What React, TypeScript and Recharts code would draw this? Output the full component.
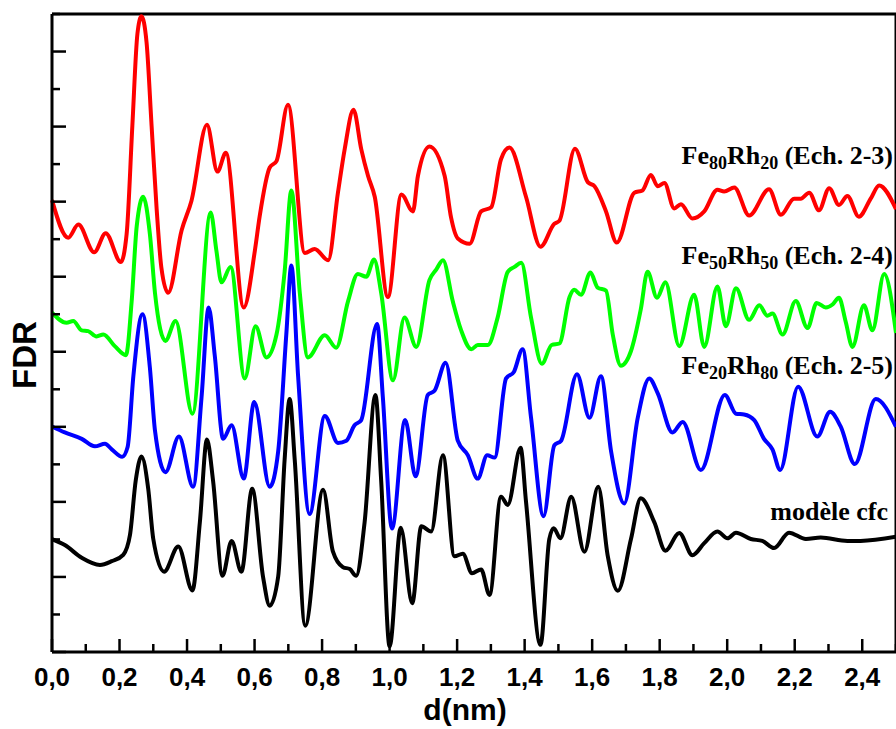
import React from 'react';
import { LineChart, Line, XAxis, YAxis, ReferenceLine } from 'recharts';

type Pt = [number, number];

// d (nm) tick positions, labelled every 0.2
const xTicks = [0, 0.1, 0.2, 0.3, 0.4, 0.5, 0.6, 0.7, 0.8, 0.9, 1.0, 1.1, 1.2, 1.3, 1.4, 1.5, 1.6, 1.7, 1.8, 1.9, 2.0, 2.1, 2.2, 2.3, 2.4, 2.5];
// FDR axis has no labels, only inward ticks
const yTicks = [0, 1, 2, 3, 4, 5, 6, 7, 8, 9, 10, 11, 12, 13, 14, 15, 16, 17];

// curves are plotted with a vertical offset
const fe80Rh20: Pt[] = [
  [0, 12.04], [0.048, 11.04], [0.078, 11.39], [0.125, 10.65], [0.159, 11.16], [0.204, 10.39],
  [0.221, 11.13], [0.238, 14.02], [0.253, 16.47], [0.265, 16.94], [0.28, 16.25], [0.295, 14.02],
  [0.31, 11.8], [0.324, 10.24], [0.344, 9.57], [0.384, 11.24], [0.413, 12.02], [0.459, 14.05],
  [0.49, 12.8], [0.515, 13.3], [0.568, 9.18], [0.601, 10.7], [0.615, 11.6], [0.645, 12.91],
  [0.665, 13.08], [0.699, 14.58], [0.749, 10.63], [0.778, 10.74], [0.818, 10.44], [0.847, 12.24],
  [0.867, 13.4], [0.893, 14.45], [0.916, 13.4], [0.936, 12.69], [0.956, 12.13], [0.995, 9.46],
  [1.035, 12.19], [1.069, 11.74], [1.084, 12.69], [1.118, 13.47], [1.163, 12.69], [1.182, 11.58],
  [1.202, 11.02], [1.237, 10.88], [1.271, 11.74], [1.301, 11.85], [1.33, 13.13], [1.355, 13.44],
  [1.404, 12.13], [1.447, 10.8], [1.488, 11.41], [1.503, 11.49], [1.549, 13.41], [1.587, 12.52],
  [1.607, 12.41], [1.641, 11.74], [1.673, 10.91], [1.725, 12.24], [1.749, 12.3], [1.774, 12.71],
  [1.794, 12.41], [1.814, 12.5], [1.843, 11.82], [1.863, 11.93], [1.897, 11.55], [1.932, 11.74],
  [1.971, 12.32], [1.991, 12.27], [2.021, 12.38], [2.065, 11.63], [2.124, 12.33], [2.159, 11.65],
  [2.198, 12.08], [2.218, 12.08], [2.243, 12.24], [2.272, 11.77], [2.302, 12.36], [2.331, 11.91],
  [2.356, 12.15], [2.39, 11.6], [2.425, 12.08], [2.45, 12.43], [2.5, 11.8],
];

const fe50Rh50: Pt[] = [
  [0, 9.04], [0.043, 8.77], [0.063, 8.82], [0.088, 8.57], [0.107, 8.55], [0.132, 8.41],
  [0.152, 8.46], [0.186, 8.15], [0.219, 7.91], [0.236, 9.35], [0.251, 11.35], [0.27, 12.13],
  [0.29, 11.13], [0.305, 9.57], [0.336, 8.29], [0.366, 8.82], [0.416, 6.35], [0.47, 11.71],
  [0.487, 10.69], [0.502, 9.85], [0.529, 10.26], [0.571, 7.29], [0.603, 8.68], [0.635, 7.85],
  [0.665, 8.46], [0.689, 10.13], [0.709, 12.3], [0.734, 9.57], [0.758, 7.85], [0.808, 8.44],
  [0.842, 8.11], [0.877, 9.35], [0.906, 10.07], [0.931, 10.0], [0.954, 10.46], [0.975, 9.57],
  [1.01, 7.24], [1.044, 8.91], [1.079, 8.13], [1.118, 9.91], [1.138, 10.19], [1.158, 10.44],
  [1.187, 9.35], [1.212, 8.57], [1.242, 8.07], [1.261, 8.18], [1.291, 8.18], [1.32, 8.91],
  [1.35, 10.13], [1.37, 10.26], [1.39, 10.37], [1.419, 8.91], [1.451, 7.68], [1.48, 8.18],
  [1.503, 8.22], [1.533, 9.46], [1.547, 9.65], [1.567, 9.52], [1.595, 10.11], [1.616, 9.71],
  [1.641, 9.63], [1.661, 8.46], [1.685, 7.63], [1.715, 8.02], [1.744, 9.13], [1.764, 10.13],
  [1.792, 9.44], [1.817, 9.85], [1.858, 8.15], [1.902, 9.52], [1.932, 8.13], [1.971, 9.74],
  [1.996, 8.68], [2.026, 9.69], [2.065, 8.85], [2.095, 9.24], [2.119, 8.96], [2.134, 9.02],
  [2.164, 8.46], [2.203, 9.35], [2.238, 8.63], [2.265, 9.3], [2.292, 9.18], [2.312, 9.26],
  [2.331, 9.44], [2.351, 8.8], [2.371, 8.13], [2.405, 9.24], [2.43, 8.57], [2.465, 10.07],
  [2.5, 8.5],
];

const fe20Rh80: Pt[] = [
  [0, 6.01], [0.038, 5.85], [0.088, 5.68], [0.127, 5.48], [0.157, 5.55], [0.177, 5.4],
  [0.208, 5.2], [0.224, 5.46], [0.241, 7.35], [0.268, 9.0], [0.29, 7.57], [0.305, 5.9],
  [0.336, 4.79], [0.376, 5.74], [0.418, 4.4], [0.443, 6.79], [0.464, 9.18], [0.482, 7.91],
  [0.507, 5.68], [0.532, 6.04], [0.568, 4.62], [0.599, 6.66], [0.645, 4.4], [0.67, 5.35],
  [0.694, 8.46], [0.709, 10.3], [0.729, 7.35], [0.763, 3.68], [0.808, 6.29], [0.847, 5.57],
  [0.872, 5.63], [0.896, 6.04], [0.916, 6.18], [0.963, 8.74], [0.98, 6.79], [1.007, 3.29],
  [1.046, 6.18], [1.077, 4.68], [1.113, 6.85], [1.133, 6.96], [1.166, 7.71], [1.202, 5.63],
  [1.232, 5.24], [1.261, 4.62], [1.289, 5.24], [1.311, 5.18], [1.345, 7.29], [1.368, 7.46],
  [1.394, 8.07], [1.419, 6.24], [1.456, 3.62], [1.488, 5.51], [1.508, 5.63], [1.555, 7.4],
  [1.592, 6.24], [1.626, 7.35], [1.656, 5.35], [1.695, 3.96], [1.735, 6.24], [1.769, 7.29],
  [1.794, 6.9], [1.838, 5.85], [1.868, 6.13], [1.922, 4.85], [1.993, 6.85], [2.026, 6.35],
  [2.05, 6.33], [2.08, 6.18], [2.109, 5.68], [2.134, 5.4], [2.157, 4.85], [2.21, 7.07],
  [2.267, 5.74], [2.305, 6.4], [2.336, 6.01], [2.378, 5.01], [2.44, 6.74], [2.5, 6.0],
];

const modeleCfc: Pt[] = [
  [0, 3.01], [0.038, 2.85], [0.088, 2.51], [0.142, 2.32], [0.177, 2.42], [0.211, 2.59],
  [0.231, 3.12], [0.248, 4.57], [0.265, 5.21], [0.285, 4.35], [0.3, 3.01], [0.332, 2.14],
  [0.374, 2.81], [0.416, 1.64], [0.438, 3.46], [0.459, 5.66], [0.477, 4.57], [0.505, 2.03],
  [0.532, 2.96], [0.561, 2.14], [0.593, 4.35], [0.625, 2.01], [0.645, 1.23], [0.67, 2.01],
  [0.689, 5.12], [0.704, 6.74], [0.719, 5.12], [0.75, 0.7], [0.803, 4.32], [0.832, 2.68],
  [0.862, 2.26], [0.882, 2.21], [0.901, 2.03], [0.926, 3.46], [0.958, 6.85], [0.975, 4.57],
  [1.0, 0.15], [1.033, 3.31], [1.067, 1.3], [1.094, 3.35], [1.123, 3.21], [1.158, 5.24],
  [1.192, 2.55], [1.217, 2.62], [1.244, 2.1], [1.271, 2.2], [1.296, 1.52], [1.33, 4.14],
  [1.35, 3.92], [1.388, 5.44], [1.404, 4.01], [1.447, 0.19], [1.473, 3.01], [1.486, 3.3],
  [1.506, 3.03], [1.538, 4.14], [1.577, 2.67], [1.618, 4.4], [1.646, 2.57], [1.676, 1.63],
  [1.715, 3.01], [1.744, 4.1], [1.784, 3.46], [1.817, 2.7], [1.858, 3.17], [1.897, 2.58],
  [1.932, 2.9], [1.971, 3.21], [2.001, 3.03], [2.026, 3.18], [2.07, 3.01], [2.104, 2.96],
  [2.139, 2.77], [2.183, 3.18], [2.233, 3.01], [2.277, 3.05], [2.356, 2.96], [2.395, 2.96],
  [2.5, 3.07],
];

const SANS = 'Liberation Sans, Arial, Helvetica, sans-serif';
const SERIF = 'Liberation Serif, Times New Roman, serif';

const toRows = (pts: Pt[]) => pts.map(([d, v]) => ({ d, v }));

const XTick = (props: any) => {
  const { x, y, payload } = props;
  const tenths = Math.round(payload.value * 10);
  const major = tenths % 2 === 0;
  return (
    <g>
      <line x1={x} y1={y} x2={x} y2={y - (major ? 13 : 8)} stroke="#000" strokeWidth={2.5} />
      {major && (
        <text x={x} y={y + 34} textAnchor="middle" fontFamily={SANS} fontWeight="bold" fontSize={26} fill="#000">
          {payload.value.toFixed(1).replace('.', ',')}
        </text>
      )}
    </g>
  );
};

const YTick = (props: any) => {
  const { x, y, payload } = props;
  const major = payload.value % 2 === 0;
  return <line x1={x} y1={y} x2={x + (major ? 14 : 8)} y2={y} stroke="#000" strokeWidth={2.5} />;
};

// series name drawn next to its curve: [prefix, sub, middle, sub, suffix]
const SeriesLabel = ({ y, parts }: { y: number; parts: string[] }) => (
  <text x={893} y={y} textAnchor="end" fontFamily={SERIF} fontWeight="bold" fontSize={26} fill="#000">
    <tspan>{parts[0]}</tspan>
    <tspan fontSize={18} dy={5}>{parts[1]}</tspan>
    <tspan dy={-5}>{parts[2]}</tspan>
    <tspan fontSize={18} dy={5}>{parts[3]}</tspan>
    <tspan dy={-5}>{parts[4]}</tspan>
  </text>
);

export default function App() {
  return (
    <div style={{ position: 'absolute', left: 0, top: 0, width: 896, height: 729, background: '#fff' }}>
      <LineChart width={896} height={729} margin={{ top: 14, right: 0, bottom: 0, left: 0 }}>
        <XAxis
          dataKey="d"
          type="number"
          domain={[0, 2.5]}
          ticks={xTicks}
          interval={0}
          height={77}
          tickSize={0}
          tickMargin={0}
          tickLine={false}
          axisLine={{ stroke: '#000', strokeWidth: 3 }}
          tick={<XTick />}
          label={{
            content: ({ viewBox }: any) => (
              <text
                x={viewBox.x + viewBox.width / 2 - 9}
                y={viewBox.y + 68}
                textAnchor="middle"
                fontFamily={SANS}
                fontWeight="bold"
                fontSize={30}
                fill="#000"
              >
                d(nm)
              </text>
            ),
          }}
        />
        <YAxis
          type="number"
          domain={[0, 17]}
          ticks={yTicks}
          interval={0}
          width={52}
          tickSize={0}
          tickMargin={0}
          tickLine={false}
          axisLine={{ stroke: '#000', strokeWidth: 3 }}
          tick={<YTick />}
          label={{
            content: ({ viewBox }: any) => {
              const cx = viewBox.x + 24;
              const cy = viewBox.y + viewBox.height / 2 + 22;
              return (
                <text
                  x={cx}
                  y={cy}
                  transform={`rotate(-90, ${cx}, ${cy})`}
                  textAnchor="middle"
                  dominantBaseline="central"
                  fontFamily={SANS}
                  fontWeight="bold"
                  fontSize={33}
                  fill="#000"
                >
                  FDR
                </text>
              );
            },
          }}
        />
        <ReferenceLine y={17} stroke="#000" strokeWidth={3} />
        <ReferenceLine x={2.5} stroke="#000" strokeWidth={3} />
        <Line data={toRows(modeleCfc)} dataKey="v" type="monotone" stroke="#000000" strokeWidth={4} dot={false} activeDot={false} isAnimationActive={false} />
        <Line data={toRows(fe20Rh80)} dataKey="v" type="monotone" stroke="#0000ff" strokeWidth={4} dot={false} activeDot={false} isAnimationActive={false} />
        <Line data={toRows(fe50Rh50)} dataKey="v" type="monotone" stroke="#00ff00" strokeWidth={4} dot={false} activeDot={false} isAnimationActive={false} />
        <Line data={toRows(fe80Rh20)} dataKey="v" type="monotone" stroke="#ff0000" strokeWidth={4} dot={false} activeDot={false} isAnimationActive={false} />
      </LineChart>
      <svg width={896} height={729} style={{ position: 'absolute', left: 0, top: 0, pointerEvents: 'none' }}>
        <SeriesLabel y={164} parts={['Fe', '80', 'Rh', '20', ' (Ech. 2-3)']} />
        <SeriesLabel y={264} parts={['Fe', '50', 'Rh', '50', ' (Ech. 2-4)']} />
        <SeriesLabel y={374} parts={['Fe', '20', 'Rh', '80', ' (Ech. 2-5)']} />
        <text x={888} y={520} textAnchor="end" fontFamily={SERIF} fontWeight="bold" fontSize={26} fill="#000">
          modèle cfc
        </text>
      </svg>
    </div>
  );
}
